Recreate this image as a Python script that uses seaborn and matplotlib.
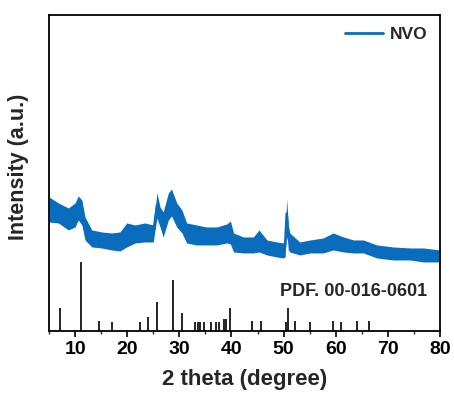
import matplotlib
matplotlib.use("Agg")
import matplotlib.pyplot as plt
import seaborn as sns
import pandas as pd
from matplotlib.ticker import MultipleLocator

# ---- data (arbitrary intensity units) ----
theta = [5.0, 6.8, 8.7, 10.0, 10.6, 11.3, 11.9, 13.2, 15.1, 17.0, 18.6, 19.9,
         21.5, 23.4, 25.0, 25.7, 26.3, 26.9, 27.9, 28.5, 29.5, 30.5, 31.4,
         33.3, 35.2, 37.2, 39.1, 39.8, 40.4, 42.3, 44.2, 45.3, 46.8, 48.7,
         49.9, 50.3, 50.6, 50.9, 51.2, 53.1, 55.1, 57.6, 59.5, 61.5, 63.4,
         65.3, 67.9, 71.0, 74.3, 76.8, 80.0]
band_top_px = [197, 203, 208, 203, 196, 200, 217, 230, 232, 233, 232, 223,
               225, 223, 225, 193, 207, 212, 193, 189, 203, 210, 223,
               225, 227, 227, 224, 221, 233, 237, 237, 230, 240, 242,
               243, 235, 199, 225, 233, 242, 240, 238, 233, 237, 240,
               240, 245, 247, 248, 248, 250]
band_bot_px = [222, 223, 230, 227, 220, 225, 240, 247, 248, 250, 251, 247,
               243, 242, 242, 218, 227, 237, 220, 216, 227, 233, 243,
               245, 245, 245, 243, 244, 252, 253, 253, 252, 255, 257,
               258, 257, 228, 250, 252, 255, 253, 253, 250, 252, 253,
               253, 258, 260, 260, 262, 262]

# reference pattern PDF 00-016-0601
ref_theta = [7.1, 11.1, 14.5, 17.1, 22.5, 23.9, 25.8, 28.7, 30.6, 33.1, 33.5,
             34.0, 34.8, 36.1, 37.0, 37.6, 38.6, 38.9, 39.7, 44.0, 45.6, 50.4,
             50.8, 52.2, 55.1, 59.4, 61.1, 64.0, 66.4]
ref_height = [23, 69, 10, 8.5, 8.5, 13.5, 29, 50.5, 18, 8.5, 8.5,
              8.5, 8.5, 8.5, 8.5, 8.5, 12, 12, 23, 10, 10, 8.5,
              23, 10, 8.5, 10, 8.5, 10, 10]

x_ticks = [10, 20, 30, 40, 50, 60, 70, 80]

# convert pixel readings to intensity (baseline = 331 px)
upper = [331 - v for v in band_top_px]
lower = [331 - v for v in band_bot_px]
center = [(u + l) / 2 for u, l in zip(upper, lower)]
df = pd.DataFrame({"theta": theta, "I": center})

blue = "#0a6cbc"

sns.set_theme(style="white")
plt.rcParams["font.family"] = ["Liberation Sans", "DejaVu Sans"]
plt.rcParams["font.weight"] = "bold"

fig = plt.figure(figsize=(4.54, 3.94), dpi=100)
ax = fig.add_axes([0.108, 0.160, 0.861, 0.802])

ax.fill_between(theta, lower, upper, color=blue, linewidth=0)
sns.lineplot(data=df, x="theta", y="I", ax=ax, color=blue, linewidth=1.8,
             label="NVO")
ax.vlines(ref_theta, 0, ref_height, color="black", linewidth=1.2)

ax.text(77.5, 39, "PDF. 00-016-0601", ha="right", va="center",
        fontsize=13, fontweight="bold")

ax.set_xlim(5, 80)
ax.set_ylim(0, 316)
ax.set_xticks(x_ticks)
ax.xaxis.set_minor_locator(MultipleLocator(5))
ax.set_yticks([])
ax.tick_params(axis="x", which="major", direction="out", length=4, width=1.2,
               labelsize=14, bottom=True, pad=3, colors="black")
ax.tick_params(axis="x", which="minor", direction="out", length=2, width=1.0,
               bottom=True)
for lab in ax.get_xticklabels():
    lab.set_fontweight("bold")

ax.set_xlabel("2 theta (degree)", fontsize=16, fontweight="bold", labelpad=8)
ax.set_ylabel("Intensity (a.u.)", fontsize=15.5, fontweight="bold")
ax.yaxis.set_label_coords(-0.052, 0.52)

for sp in ax.spines.values():
    sp.set_visible(True)
    sp.set_color("black")
    sp.set_linewidth(1.3)

leg = ax.legend(loc="upper right", frameon=False,
                handlelength=2.2, borderaxespad=0.3, handletextpad=0.4,
                prop={"weight": "bold", "size": 12.5})
for h in leg.get_lines():
    h.set_linewidth(2.0)

fig.savefig("out.png", dpi=100)
